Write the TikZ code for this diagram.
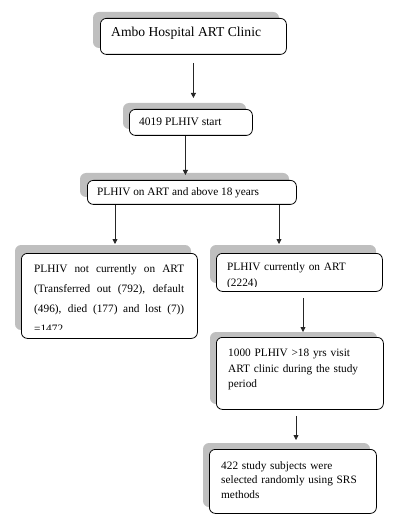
\documentclass[tikz,border=0pt]{standalone}
\usepackage{fontspec}
\setmainfont{Liberation Serif}
\usetikzlibrary{calc,arrows.meta}
\begin{document}
\begin{tikzpicture}[x=1pt,y=-1pt,
  box/.style={draw=black, line width=0.8pt, rounded corners=6pt, fill=white, inner sep=0pt, anchor=north west},
  shade/.style={fill=black!25, rounded corners=6pt},
  txt/.style={inner sep=0pt, font=\fontsize{11.3}{13.5}\selectfont},
  arr/.style={-{Triangle[length=5pt,width=5pt]}, line width=0.8pt, draw=black!85}]
\useasboundingbox (0,0) rectangle (405,526);
% box 1
\fill[shade] (93,12) rectangle (279,48);
\node[box, minimum width=186pt, minimum height=36pt] (b1) at (100,18) {};
\node[inner sep=0pt, anchor=west, font=\fontsize{13.6}{16}\selectfont] (t1) at (111,33) {Ambo Hospital ART Clinic};
% box 2
\fill[shade] (123,103) rectangle (246,129);
\node[box, minimum width=123pt, minimum height=26pt] (b2) at (129,109) {};
\node[txt, anchor=west, font=\fontsize{11.5}{13.5}\selectfont] (t2) at (139,122) {4019 PLHIV start};
% box 3
\fill[shade] (80,173) rectangle (289,197);
\node[box, minimum width=209pt, minimum height=24pt] (b3) at (87,180) {};
\node[txt, anchor=west] (t3) at (97,193) {PLHIV on ART and above 18 years};
% left box
\fill[shade] (15,245) rectangle (191,330);
\node[box, minimum width=176pt, minimum height=85pt] (lb) at (21,253) {};
\begin{scope}
\clip (21,253) rectangle (197,329.5);
\node[txt, anchor=north west, text width=150pt, align=justify, font=\fontsize{11.3}{20.3}\selectfont] (lt) at (34,264)
  {PLHIV not currently on ART\linebreak (Transferred out (792), default\linebreak (496), died (177) and lost (7))\linebreak =1472};
\end{scope}
% right box
\fill[shade] (210,245) rectangle (376,283);
\node[box, minimum width=166pt, minimum height=38pt] (rb) at (216,253) {};
\begin{scope}
\clip (216,253) rectangle (382,286.3);
\node[txt, anchor=north west, text width=150pt, align=left, font=\fontsize{11.3}{16}\selectfont] (rt) at (227,262)
  {PLHIV currently on ART\\(2224)};
\end{scope}
% box 1000
\fill[shade] (210,332) rectangle (377,404);
\node[box, minimum width=167pt, minimum height=72pt] (b4) at (216,337) {};
\node[txt, anchor=north west, text width=150pt, align=left, font=\fontsize{11.3}{15.5}\selectfont] (t4) at (228,349)
  {1000 PLHIV >18 yrs visit\\ART clinic during the study\\period};
% box 422
\fill[shade] (203,443) rectangle (370,507);
\node[box, minimum width=167pt, minimum height=64pt] (b5) at (209,449) {};
\node[txt, anchor=north west, text width=150pt, align=left, font=\fontsize{11.3}{14.5}\selectfont] (t5) at (221,461)
  {422 study subjects were\\selected randomly using SRS\\methods};
% arrows
\draw[arr] ($(b1.south)+(0,8)$) -- ($(b2.north)+(2.5,-11)$);
\draw[arr] ($(b2.south)+(-5.5,0)$) -- ($(b3.north)+(-6.5,-5)$);
\draw[arr] ($(b3.south west)+(28,0)$) -- ($(lb.north west)+(94,-9)$);
\draw[arr] ($(b3.south west)+(192,0)$) -- ($(rb.north west)+(63,-9)$);
\draw[arr] ($(rb.south west)+(87,6)$) -- ($(b4.north west)+(87,-5)$);
\draw[arr] ($(b4.south west)+(80,6)$) -- ($(b5.north west)+(87,-9)$);
\end{tikzpicture}
\end{document}
